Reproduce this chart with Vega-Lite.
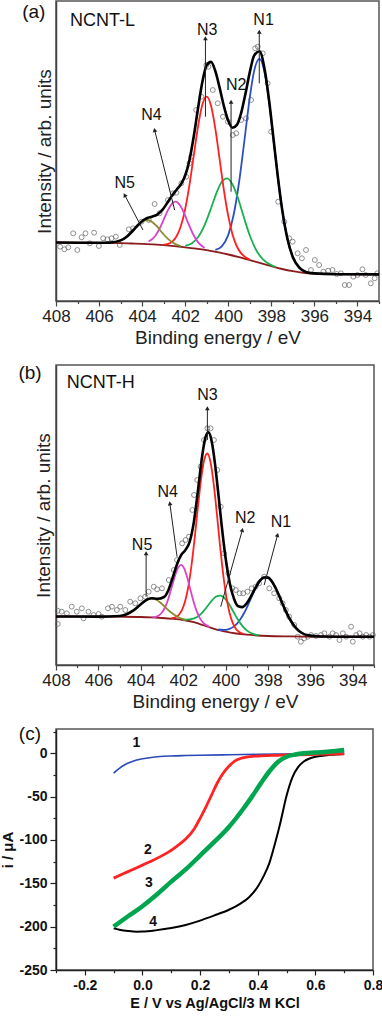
{
"$schema": "https://vega.github.io/schema/vega-lite/v6.json",
"padding": {"left": 0, "top": 0, "right": 2, "bottom": 2},
"background": "white",
"bounds": "flush",
"spacing": 64,
"resolve": {"scale": {"color": "independent"}},
"config": {
 "font": "Liberation Sans",
 "view": {"stroke": "#555", "strokeWidth": 1.5},
 "axis": {"grid": false, "domainColor": "#444", "domainWidth": 1.5, "tickColor": "#444", "tickWidth": 1.2, "labelColor": "#222", "titleColor": "#222", "labelFont": "Liberation Sans", "titleFont": "Liberation Sans", "labelFlush": false, "labelOverlap": false}
},
"datasets": {
 "aPts": [
  {"e":407.81,"v":54.3},{"e":407.61,"v":51.7},{"e":407.43,"v":53.7},{"e":407.2,"v":67.7},{"e":407.01,"v":51.0},{"e":406.81,"v":63.7},{"e":406.63,"v":67.7},{"e":406.43,"v":57.7},{"e":406.23,"v":68.3},{"e":406.01,"v":55.0},{"e":405.81,"v":62.7},{"e":405.61,"v":61.7},{"e":405.42,"v":62.7},{"e":405.22,"v":64.3},{"e":405.04,"v":56.0},{"e":404.62,"v":71.7},{"e":404.42,"v":72.7},{"e":404.03,"v":79.3},{"e":403.69,"v":81.0},{"e":403.42,"v":97.0},{"e":403.19,"v":87.7},{"e":402.8,"v":101.0},{"e":402.57,"v":107.7},{"e":402.41,"v":108.3},{"e":402.18,"v":117.7},{"e":401.95,"v":124.3},{"e":401.8,"v":137.7},{"e":401.72,"v":144.3},{"e":401.49,"v":191.0},{"e":401.25,"v":204.3},{"e":401.02,"v":236.0},{"e":400.92,"v":234.3},{"e":400.72,"v":211.0},{"e":400.49,"v":197.7},{"e":400.25,"v":184.3},{"e":400.02,"v":179.3},{"e":399.79,"v":166.0},{"e":399.63,"v":167.7},{"e":399.4,"v":181.0},{"e":399.17,"v":182.7},{"e":398.94,"v":201.0},{"e":398.75,"v":252.7},{"e":398.63,"v":254.3},{"e":398.4,"v":247.7},{"e":398.17,"v":217.7},{"e":398.01,"v":169.3},{"e":397.68,"v":99.3},{"e":397.4,"v":79.3},{"e":397.17,"v":62.7},{"e":397.01,"v":59.3},{"e":396.78,"v":47.7},{"e":396.58,"v":42.7},{"e":396.39,"v":51.0},{"e":396.16,"v":31.0},{"e":395.98,"v":41.0},{"e":395.78,"v":36.0},{"e":395.58,"v":29.3},{"e":395.36,"v":30.3},{"e":395.16,"v":31.0},{"e":394.96,"v":27.0},{"e":394.77,"v":27.7},{"e":394.59,"v":16.0},{"e":394.39,"v":16.0},{"e":394.19,"v":24.3},{"e":394.0,"v":26.0},{"e":393.77,"v":31.7},{"e":393.62,"v":26.0},{"e":393.38,"v":17.7},{"e":393.2,"v":22.7},{"e":393.08,"v":27.7}
 ],
 "aLines": [
  {"s":"bg","e":408,"v":58.5},{"s":"bg","e":407,"v":58.3},{"s":"bg","e":406,"v":58.2},{"s":"bg","e":405,"v":57.8},{"s":"bg","e":404.5,"v":57.5},{"s":"bg","e":404,"v":57.2},{"s":"bg","e":403.5,"v":56.6},{"s":"bg","e":403,"v":55.8},{"s":"bg","e":402.5,"v":54.8},{"s":"bg","e":402,"v":53.7},{"s":"bg","e":401.5,"v":52.4},{"s":"bg","e":401,"v":50.8},{"s":"bg","e":400.5,"v":48.8},{"s":"bg","e":400,"v":46.5},{"s":"bg","e":399.5,"v":43.8},{"s":"bg","e":399,"v":40.8},{"s":"bg","e":398.5,"v":37.8},{"s":"bg","e":398,"v":34.8},{"s":"bg","e":397.5,"v":32.0},{"s":"bg","e":397,"v":29.8},{"s":"bg","e":396.5,"v":28.2},{"s":"bg","e":396,"v":27.4},{"s":"bg","e":395.5,"v":27.0},{"s":"bg","e":395,"v":26.8},{"s":"bg","e":394,"v":26.7},{"s":"bg","e":393,"v":26.6},
  {"s":"N1","e":400.6,"v":51.1},{"s":"N1","e":400.3,"v":54.7},{"s":"N1","e":400,"v":66.1},{"s":"N1","e":399.75,"v":86.2},{"s":"N1","e":399.5,"v":118.5},{"s":"N1","e":399.25,"v":160.5},{"s":"N1","e":399,"v":203.6},{"s":"N1","e":398.8,"v":229.9},{"s":"N1","e":398.55,"v":242.1},{"s":"N1","e":398.3,"v":226.9},{"s":"N1","e":398.1,"v":198.2},{"s":"N1","e":397.9,"v":161.6},{"s":"N1","e":397.7,"v":124.3},{"s":"N1","e":397.5,"v":91.8},{"s":"N1","e":397.25,"v":62.0},{"s":"N1","e":397,"v":43.8},{"s":"N1","e":396.7,"v":33.3},{"s":"N1","e":396.4,"v":29.1},{"s":"N1","e":396,"v":27.6},
  {"s":"N2","e":402,"v":55.3},{"s":"N2","e":401.7,"v":57.6},{"s":"N2","e":401.4,"v":63.9},{"s":"N2","e":401.1,"v":75.9},{"s":"N2","e":400.8,"v":92.8},{"s":"N2","e":400.55,"v":107.9},{"s":"N2","e":400.3,"v":119.2},{"s":"N2","e":400.05,"v":122.7},{"s":"N2","e":399.8,"v":116.5},{"s":"N2","e":399.55,"v":103.0},{"s":"N2","e":399.3,"v":85.4},{"s":"N2","e":399,"v":65.5},{"s":"N2","e":398.7,"v":50.8},{"s":"N2","e":398.4,"v":41.9},{"s":"N2","e":398.1,"v":37.0},{"s":"N2","e":397.8,"v":34.0},
  {"s":"N3","e":403,"v":56.4},{"s":"N3","e":402.8,"v":57.1},{"s":"N3","e":402.6,"v":59.4},{"s":"N3","e":402.4,"v":64.7},{"s":"N3","e":402.2,"v":74.9},{"s":"N3","e":402,"v":92.0},{"s":"N3","e":401.8,"v":116.3},{"s":"N3","e":401.6,"v":145.8},{"s":"N3","e":401.4,"v":175.0},{"s":"N3","e":401.2,"v":196.7},{"s":"N3","e":401,"v":204.3},{"s":"N3","e":400.8,"v":195.2},{"s":"N3","e":400.6,"v":172.1},{"s":"N3","e":400.4,"v":141.5},{"s":"N3","e":400.2,"v":110.5},{"s":"N3","e":400,"v":84.8},{"s":"N3","e":399.8,"v":66.2},{"s":"N3","e":399.6,"v":54.5},{"s":"N3","e":399.4,"v":47.6},{"s":"N3","e":399.2,"v":43.7},{"s":"N3","e":399,"v":41.4},
  {"s":"N4","e":403.7,"v":59.5},{"s":"N4","e":403.4,"v":64.8},{"s":"N4","e":403.2,"v":72.0},{"s":"N4","e":403,"v":81.3},{"s":"N4","e":402.8,"v":90.8},{"s":"N4","e":402.6,"v":97.6},{"s":"N4","e":402.44,"v":99.3},{"s":"N4","e":402.25,"v":96.0},{"s":"N4","e":402.05,"v":87.8},{"s":"N4","e":401.85,"v":77.3},{"s":"N4","e":401.65,"v":67.5},{"s":"N4","e":401.4,"v":58.6},{"s":"N4","e":401.1,"v":53.0},
  {"s":"N5","e":405.3,"v":58.7},{"s":"N5","e":405,"v":60.6},{"s":"N5","e":404.7,"v":64.6},{"s":"N5","e":404.4,"v":71.0},{"s":"N5","e":404.15,"v":76.6},{"s":"N5","e":403.95,"v":79.9},{"s":"N5","e":403.76,"v":81.0},{"s":"N5","e":403.55,"v":79.3},{"s":"N5","e":403.3,"v":74.3},{"s":"N5","e":403.05,"v":67.8},{"s":"N5","e":402.8,"v":62.1},{"s":"N5","e":402.5,"v":57.4},{"s":"N5","e":402.2,"v":54.9},
  {"s":"fit","e":408,"v":58.5},{"s":"fit","e":407,"v":58.3},{"s":"fit","e":406,"v":58.2},{"s":"fit","e":405.5,"v":58.4},{"s":"fit","e":405,"v":60.6},{"s":"fit","e":404.7,"v":64.6},{"s":"fit","e":404.4,"v":71.0},{"s":"fit","e":404.15,"v":76.8},{"s":"fit","e":403.95,"v":80.7},{"s":"fit","e":403.76,"v":83.0},{"s":"fit","e":403.55,"v":84.3},{"s":"fit","e":403.3,"v":86.4},{"s":"fit","e":403.05,"v":91.3},{"s":"fit","e":402.8,"v":99.2},{"s":"fit","e":402.6,"v":105.8},{"s":"fit","e":402.4,"v":111.3},{"s":"fit","e":402.2,"v":116.7},{"s":"fit","e":402,"v":125.5},{"s":"fit","e":401.8,"v":141.1},{"s":"fit","e":401.6,"v":165.0},{"s":"fit","e":401.4,"v":193.3},{"s":"fit","e":401.2,"v":219.4},{"s":"fit","e":401,"v":236.0},{"s":"fit","e":400.8,"v":239.1},{"s":"fit","e":400.6,"v":229.8},{"s":"fit","e":400.4,"v":213.1},{"s":"fit","e":400.2,"v":194.6},{"s":"fit","e":400,"v":180.2},{"s":"fit","e":399.8,"v":173.3},{"s":"fit","e":399.6,"v":176.1},{"s":"fit","e":399.4,"v":188.2},{"s":"fit","e":399.2,"v":207.5},{"s":"fit","e":399,"v":228.9},{"s":"fit","e":398.8,"v":245.3},{"s":"fit","e":398.55,"v":249.8},{"s":"fit","e":398.3,"v":230.2},{"s":"fit","e":398.1,"v":199.8},{"s":"fit","e":397.9,"v":162.4},{"s":"fit","e":397.7,"v":124.6},{"s":"fit","e":397.5,"v":91.9},{"s":"fit","e":397.25,"v":62.0},{"s":"fit","e":397,"v":43.8},{"s":"fit","e":396.7,"v":33.3},{"s":"fit","e":396.4,"v":29.1},{"s":"fit","e":396,"v":27.6},{"s":"fit","e":395,"v":26.8},{"s":"fit","e":394,"v":26.7},{"s":"fit","e":393,"v":26.6}
 ],
 "aArr": [
  {"lab":"N1","e":398.56,"v":269.3,"e2":398.56,"v2":217.7},
  {"lab":"N2","e":399.87,"v":199.3,"e2":399.87,"v2":109.3},
  {"lab":"N3","e":401.06,"v":262.7,"e2":401.06,"v2":184.3},
  {"lab":"N4","e":403.42,"v":171,"e2":402.49,"v2":91},
  {"lab":"N5","e":404.81,"v":106,"e2":403.96,"v2":71}
 ],
 "aLab": [
  {"lab":"N1","e":398.36,"v":281},{"lab":"N2","e":399.63,"v":216},{"lab":"N3","e":400.98,"v":271},{"lab":"N4","e":403.57,"v":186},{"lab":"N5","e":404.81,"v":117.7}
 ],
 "bPts": [
  {"e":407.92,"v":54.3},{"e":407.92,"v":41.0},{"e":407.73,"v":53.3},{"e":407.49,"v":51.7},{"e":407.26,"v":58.3},{"e":407.02,"v":53.3},{"e":406.78,"v":56.7},{"e":406.7,"v":46.7},{"e":406.47,"v":53.3},{"e":406.23,"v":50.0},{"e":405.99,"v":51.0},{"e":405.84,"v":48.3},{"e":405.55,"v":56.7},{"e":405.36,"v":58.3},{"e":405.13,"v":55.0},{"e":404.97,"v":58.3},{"e":404.73,"v":55.0},{"e":404.5,"v":63.3},{"e":404.26,"v":61.7},{"e":404.02,"v":66.7},{"e":403.79,"v":68.3},{"e":403.63,"v":73.3},{"e":403.39,"v":78.3},{"e":403.23,"v":75.7},{"e":403.0,"v":76.7},{"e":402.68,"v":85.0},{"e":402.44,"v":95.0},{"e":402.29,"v":105.0},{"e":402.05,"v":121.7},{"e":401.89,"v":125.0},{"e":401.73,"v":128.3},{"e":401.57,"v":155.0},{"e":401.49,"v":170.0},{"e":401.34,"v":185.0},{"e":401.18,"v":198.3},{"e":401.02,"v":225.0},{"e":400.86,"v":236.7},{"e":400.71,"v":236.7},{"e":400.55,"v":225.0},{"e":400.39,"v":195.0},{"e":400.23,"v":158.3},{"e":400.07,"v":111.7},{"e":399.87,"v":91.7},{"e":399.68,"v":76.7},{"e":399.52,"v":75.0},{"e":399.34,"v":71.7},{"e":399.17,"v":71.7},{"e":398.97,"v":73.3},{"e":398.77,"v":76.7},{"e":398.58,"v":78.3},{"e":398.42,"v":81.7},{"e":398.18,"v":88.3},{"e":397.94,"v":76.7},{"e":397.71,"v":71.7},{"e":397.47,"v":66.7},{"e":397.31,"v":61.7},{"e":397.16,"v":55.0},{"e":397.0,"v":48.3},{"e":396.76,"v":40.0},{"e":396.6,"v":28.3},{"e":396.45,"v":23.3},{"e":396.29,"v":26.7},{"e":396.13,"v":28.3},{"e":395.97,"v":30.0},{"e":395.74,"v":29.0},{"e":395.5,"v":30.0},{"e":395.34,"v":31.7},{"e":395.1,"v":28.3},{"e":394.95,"v":31.7},{"e":394.79,"v":30.0},{"e":394.63,"v":25.0},{"e":394.47,"v":31.7},{"e":394.32,"v":28.3},{"e":394.08,"v":38.3},{"e":394.0,"v":23.3},{"e":393.84,"v":30.0},{"e":393.68,"v":31.7},{"e":393.53,"v":28.3},{"e":393.37,"v":30.0},{"e":393.21,"v":28.3},{"e":393.05,"v":30.0}
 ],
 "bLines": [
  {"s":"bg","e":408,"v":48.5},{"s":"bg","e":406,"v":48.4},{"s":"bg","e":405,"v":48.3},{"s":"bg","e":404,"v":48.0},{"s":"bg","e":403.5,"v":47.6},{"s":"bg","e":403,"v":47.0},{"s":"bg","e":402.5,"v":46.2},{"s":"bg","e":402,"v":45.0},{"s":"bg","e":401.5,"v":42.8},{"s":"bg","e":401.25,"v":41.2},{"s":"bg","e":401,"v":39.5},{"s":"bg","e":400.75,"v":37.6},{"s":"bg","e":400.5,"v":35.9},{"s":"bg","e":400.25,"v":34.5},{"s":"bg","e":400,"v":33.3},{"s":"bg","e":399.5,"v":31.5},{"s":"bg","e":399,"v":30.3},{"s":"bg","e":398.5,"v":29.5},{"s":"bg","e":398,"v":29.0},{"s":"bg","e":397,"v":28.6},{"s":"bg","e":396,"v":28.4},{"s":"bg","e":393,"v":28.3},
  {"s":"N1","e":400.35,"v":35.5},{"s":"N1","e":400.1,"v":35.0},{"s":"N1","e":399.85,"v":35.9},{"s":"N1","e":399.6,"v":38.6},{"s":"N1","e":399.35,"v":44.3},{"s":"N1","e":399.1,"v":53.0},{"s":"N1","e":398.85,"v":64.3},{"s":"N1","e":398.6,"v":76.0},{"s":"N1","e":398.35,"v":84.8},{"s":"N1","e":398.1,"v":88.0},{"s":"N1","e":397.85,"v":84.4},{"s":"N1","e":397.6,"v":75.2},{"s":"N1","e":397.35,"v":63.0},{"s":"N1","e":397.1,"v":51.1},{"s":"N1","e":396.85,"v":41.7},{"s":"N1","e":396.6,"v":35.2},{"s":"N1","e":396.35,"v":31.5},{"s":"N1","e":396.1,"v":29.6},{"s":"N1","e":395.85,"v":28.8},
  {"s":"N2","e":402.03,"v":45.5},{"s":"N2","e":401.83,"v":45.4},{"s":"N2","e":401.63,"v":45.8},{"s":"N2","e":401.43,"v":47.1},{"s":"N2","e":401.23,"v":49.8},{"s":"N2","e":401.03,"v":54.1},{"s":"N2","e":400.83,"v":59.5},{"s":"N2","e":400.63,"v":64.8},{"s":"N2","e":400.43,"v":68.7},{"s":"N2","e":400.23,"v":69.4},{"s":"N2","e":400.03,"v":66.5},{"s":"N2","e":399.83,"v":60.7},{"s":"N2","e":399.63,"v":53.2},{"s":"N2","e":399.43,"v":45.7},{"s":"N2","e":399.23,"v":39.6},{"s":"N2","e":399.03,"v":35.1},{"s":"N2","e":398.83,"v":32.3},{"s":"N2","e":398.63,"v":30.7},{"s":"N2","e":398.43,"v":29.8},
  {"s":"N3","e":402.56,"v":46.8},{"s":"N3","e":402.36,"v":47.8},{"s":"N3","e":402.21,"v":50.0},{"s":"N3","e":402.06,"v":54.8},{"s":"N3","e":401.91,"v":63.7},{"s":"N3","e":401.76,"v":78.2},{"s":"N3","e":401.61,"v":99.5},{"s":"N3","e":401.46,"v":126.7},{"s":"N3","e":401.31,"v":157.0},{"s":"N3","e":401.16,"v":185.1},{"s":"N3","e":401.01,"v":205.0},{"s":"N3","e":400.86,"v":211.5},{"s":"N3","e":400.71,"v":202.7},{"s":"N3","e":400.56,"v":180.8},{"s":"N3","e":400.41,"v":150.8},{"s":"N3","e":400.26,"v":118.8},{"s":"N3","e":400.11,"v":90.0},{"s":"N3","e":399.96,"v":67.4},{"s":"N3","e":399.81,"v":51.7},{"s":"N3","e":399.66,"v":41.8},{"s":"N3","e":399.51,"v":36.0},{"s":"N3","e":399.36,"v":33.1},{"s":"N3","e":399.16,"v":31.2},
  {"s":"N4","e":403.45,"v":47.8},{"s":"N4","e":403.3,"v":48.2},{"s":"N4","e":403.15,"v":49.6},{"s":"N4","e":403.0,"v":52.5},{"s":"N4","e":402.85,"v":58.0},{"s":"N4","e":402.7,"v":66.3},{"s":"N4","e":402.55,"v":77.3},{"s":"N4","e":402.4,"v":88.4},{"s":"N4","e":402.25,"v":97.0},{"s":"N4","e":402.1,"v":100.2},{"s":"N4","e":401.95,"v":96.4},{"s":"N4","e":401.8,"v":86.7},{"s":"N4","e":401.65,"v":74.4},{"s":"N4","e":401.5,"v":62.6},{"s":"N4","e":401.35,"v":53.1},{"s":"N4","e":401.2,"v":46.4},{"s":"N4","e":401.05,"v":42.2},{"s":"N4","e":400.9,"v":39.7},{"s":"N4","e":400.75,"v":37.9},
  {"s":"N5","e":405.07,"v":48.8},{"s":"N5","e":404.87,"v":49.4},{"s":"N5","e":404.67,"v":50.8},{"s":"N5","e":404.47,"v":52.8},{"s":"N5","e":404.27,"v":55.9},{"s":"N5","e":404.07,"v":59.5},{"s":"N5","e":403.87,"v":63.1},{"s":"N5","e":403.67,"v":65.7},{"s":"N5","e":403.47,"v":66.5},{"s":"N5","e":403.27,"v":65.3},{"s":"N5","e":403.07,"v":62.3},{"s":"N5","e":402.87,"v":58.3},{"s":"N5","e":402.67,"v":54.3},{"s":"N5","e":402.47,"v":50.9},{"s":"N5","e":402.27,"v":48.2},{"s":"N5","e":402.07,"v":46.3},{"s":"N5","e":401.87,"v":44.7},
  {"s":"fit","e":408,"v":48.5},{"s":"fit","e":406,"v":48.4},{"s":"fit","e":405,"v":49.0},{"s":"fit","e":404.7,"v":50.5},{"s":"fit","e":404.4,"v":53.8},{"s":"fit","e":404.1,"v":58.9},{"s":"fit","e":403.8,"v":64.2},{"s":"fit","e":403.5,"v":66.8},{"s":"fit","e":403.2,"v":66.3},{"s":"fit","e":402.9,"v":68.0},{"s":"fit","e":402.7,"v":74.8},{"s":"fit","e":402.5,"v":87.0},{"s":"fit","e":402.3,"v":100.3},{"s":"fit","e":402.1,"v":109.9},{"s":"fit","e":401.9,"v":114.9},{"s":"fit","e":401.7,"v":122.8},{"s":"fit","e":401.5,"v":142.6},{"s":"fit","e":401.3,"v":175.2},{"s":"fit","e":401.1,"v":209.8},{"s":"fit","e":400.95,"v":227.6},{"s":"fit","e":400.8,"v":232.6},{"s":"fit","e":400.65,"v":222.9},{"s":"fit","e":400.5,"v":201.2},{"s":"fit","e":400.35,"v":172.6},{"s":"fit","e":400.2,"v":142.4},{"s":"fit","e":400,"v":107.0},{"s":"fit","e":399.8,"v":81.6},{"s":"fit","e":399.6,"v":66.0},{"s":"fit","e":399.4,"v":58.7},{"s":"fit","e":399.2,"v":57.9},{"s":"fit","e":399,"v":61.8},{"s":"fit","e":398.8,"v":68.8},{"s":"fit","e":398.6,"v":76.9},{"s":"fit","e":398.4,"v":83.9},{"s":"fit","e":398.2,"v":87.5},{"s":"fit","e":398,"v":87.4},{"s":"fit","e":397.8,"v":83.0},{"s":"fit","e":397.6,"v":75.2},{"s":"fit","e":397.4,"v":65.5},{"s":"fit","e":397.2,"v":55.6},{"s":"fit","e":397,"v":47.0},{"s":"fit","e":396.7,"v":37.4},{"s":"fit","e":396.4,"v":32.0},{"s":"fit","e":396.1,"v":29.6},{"s":"fit","e":395.5,"v":28.5},{"s":"fit","e":394.5,"v":28.3},{"s":"fit","e":393,"v":28.3}
 ],
 "bArr": [
  {"lab":"N1","e":397.55,"v":130,"e2":398.18,"v2":80},
  {"lab":"N2","e":399.21,"v":135,"e2":400.23,"v2":58.3},
  {"lab":"N3","e":400.86,"v":256.7,"e2":400.86,"v2":225},
  {"lab":"N4","e":402.63,"v":161.7,"e2":402.29,"v2":108.3},
  {"lab":"N5","e":403.75,"v":111.7,"e2":403.75,"v2":68.3}
 ],
 "bLab": [
  {"lab":"N1","e":397.39,"v":143.3},{"lab":"N2","e":399.08,"v":146.7},{"lab":"N3","e":400.86,"v":270},{"lab":"N4","e":402.73,"v":173.3},{"lab":"N5","e":403.94,"v":120}
 ],
 "cLines": [
  {"c":"1","E":-0.1,"I":-23},{"c":"1","E":-0.09,"I":-20},{"c":"1","E":-0.08,"I":-17.3},{"c":"1","E":-0.06,"I":-13},{"c":"1","E":-0.04,"I":-10},{"c":"1","E":-0.02,"I":-7.8},{"c":"1","E":0,"I":-6.3},{"c":"1","E":0.03,"I":-4.8},{"c":"1","E":0.06,"I":-3.8},{"c":"1","E":0.1,"I":-3.1},{"c":"1","E":0.15,"I":-2.6},{"c":"1","E":0.2,"I":-2.2},{"c":"1","E":0.3,"I":-1.7},{"c":"1","E":0.4,"I":-1.3},{"c":"1","E":0.5,"I":-0.8},{"c":"1","E":0.6,"I":-0.3},{"c":"1","E":0.7,"I":0.3},
  {"c":"2","E":-0.1,"I":-144},{"c":"2","E":-0.08,"I":-141},{"c":"2","E":-0.05,"I":-136.5},{"c":"2","E":-0.02,"I":-132},{"c":"2","E":0,"I":-129},{"c":"2","E":0.03,"I":-124.5},{"c":"2","E":0.06,"I":-119.5},{"c":"2","E":0.09,"I":-114},{"c":"2","E":0.12,"I":-107},{"c":"2","E":0.15,"I":-99},{"c":"2","E":0.18,"I":-87},{"c":"2","E":0.2,"I":-75},{"c":"2","E":0.22,"I":-62},{"c":"2","E":0.24,"I":-48},{"c":"2","E":0.26,"I":-34},{"c":"2","E":0.28,"I":-23},{"c":"2","E":0.3,"I":-15},{"c":"2","E":0.32,"I":-9},{"c":"2","E":0.34,"I":-6},{"c":"2","E":0.36,"I":-4.5},{"c":"2","E":0.4,"I":-3.2},{"c":"2","E":0.45,"I":-2.4},{"c":"2","E":0.5,"I":-2},{"c":"2","E":0.6,"I":-1.3},{"c":"2","E":0.7,"I":-0.6},
  {"c":"3","E":-0.1,"I":-200},{"c":"3","E":-0.05,"I":-188},{"c":"3","E":0,"I":-176.5},{"c":"3","E":0.05,"I":-163},{"c":"3","E":0.1,"I":-148},{"c":"3","E":0.15,"I":-134},{"c":"3","E":0.2,"I":-118},{"c":"3","E":0.25,"I":-102},{"c":"3","E":0.3,"I":-85},{"c":"3","E":0.35,"I":-64},{"c":"3","E":0.38,"I":-50},{"c":"3","E":0.41,"I":-35},{"c":"3","E":0.44,"I":-21},{"c":"3","E":0.47,"I":-10},{"c":"3","E":0.5,"I":-4},{"c":"3","E":0.53,"I":-1.5},{"c":"3","E":0.56,"I":0},{"c":"3","E":0.6,"I":0.8},{"c":"3","E":0.65,"I":2},{"c":"3","E":0.7,"I":3.8},
  {"c":"4","E":-0.1,"I":-202},{"c":"4","E":-0.08,"I":-203.5},{"c":"4","E":-0.05,"I":-205},{"c":"4","E":-0.02,"I":-205.8},{"c":"4","E":0,"I":-205.7},{"c":"4","E":0.05,"I":-204},{"c":"4","E":0.1,"I":-201.5},{"c":"4","E":0.15,"I":-198},{"c":"4","E":0.2,"I":-193},{"c":"4","E":0.25,"I":-187},{"c":"4","E":0.3,"I":-180.5},{"c":"4","E":0.34,"I":-173.5},{"c":"4","E":0.37,"I":-166},{"c":"4","E":0.4,"I":-154},{"c":"4","E":0.42,"I":-142},{"c":"4","E":0.44,"I":-127},{"c":"4","E":0.46,"I":-104},{"c":"4","E":0.48,"I":-78},{"c":"4","E":0.5,"I":-49},{"c":"4","E":0.52,"I":-28},{"c":"4","E":0.54,"I":-16},{"c":"4","E":0.56,"I":-9.5},{"c":"4","E":0.58,"I":-6},{"c":"4","E":0.61,"I":-3.5},{"c":"4","E":0.65,"I":-1.8},{"c":"4","E":0.7,"I":-0.8}
 ],
 "cLab": [
  {"E":-0.021,"I":11.5,"t":"1"},{"E":0.019,"I":-111.6,"t":"2"},{"E":0.022,"I":-150,"t":"3"},{"E":0.037,"I":-194.3,"t":"4"}
 ]
},
"vconcat": [
 {
  "width": 323, "height": 300,
  "encoding": {
   "x": {"field": "e", "type": "quantitative", "scale": {"domain": [393, 408], "reverse": true, "nice": false, "zero": false},
    "axis": {"title": "Binding energy / eV", "values": [393,394,395,396,397,398,399,400,401,402,403,404,405,406,407,408], "labelExpr": "datum.value % 2 == 0 ? datum.label : ''", "tickSize": {"condition": {"test": "datum.value % 2 == 0", "value": 5}, "value": 2.5}, "labelFontSize": 17, "titleFontSize": 19, "titleFontWeight": "normal", "labelPadding": 2, "titlePadding": 4}},
   "y": {"field": "v", "type": "quantitative", "scale": {"domain": [0, 300], "nice": false, "zero": false},
    "axis": {"title": "Intensity / arb. units", "labels": false, "ticks": false, "titleFontSize": 19, "titleFontWeight": "normal", "titlePadding": 2, "minExtent": 0, "maxExtent": 0}}
  },
  "layer": [
   {"data": {"name": "aPts"}, "mark": {"type": "point", "shape": "circle", "filled": false, "stroke": "#606060", "strokeWidth": 1, "size": 24}},
   {"data": {"name": "aLines"}, "transform": [{"filter": "datum.s != 'fit'"}], "mark": {"type": "line", "strokeWidth": 1.8, "interpolate": "monotone"},
    "encoding": {"color": {"field": "s", "type": "nominal", "scale": {"domain": ["bg","N1","N2","N3","N4","N5"], "range": ["#8b1c1c","#2d4fc4","#19b04f","#ff2020","#d944c8","#8c8a32"]}, "legend": null}}},
   {"data": {"name": "aLines"}, "transform": [{"filter": "datum.s == 'fit'"}], "mark": {"type": "line", "strokeWidth": 2.6, "color": "#000", "interpolate": "monotone"}},
   {"data": {"name": "aArr"}, "mark": {"type": "rule", "color": "#222", "strokeWidth": 1}, "encoding": {"x2": {"field": "e2"}, "y2": {"field": "v2"}}},
   {"data": {"name": "aArr"}, "transform": [{"filter": "datum.lab == 'N1' || datum.lab == 'N2' || datum.lab == 'N3'"}], "mark": {"type": "point", "shape": "triangle-up", "filled": true, "color": "#222", "opacity": 1, "size": 22}},
   {"data": {"name": "aArr"}, "transform": [{"filter": "datum.lab == 'N4'"}], "mark": {"type": "point", "shape": "triangle-up", "filled": true, "color": "#222", "opacity": 1, "size": 22, "angle": -14}},
   {"data": {"name": "aArr"}, "transform": [{"filter": "datum.lab == 'N5'"}], "mark": {"type": "point", "shape": "triangle-up", "filled": true, "color": "#222", "opacity": 1, "size": 22, "angle": -28}},
   {"data": {"name": "aLab"}, "mark": {"type": "text", "fontSize": 16, "color": "#111", "align": "center", "baseline": "middle"}, "encoding": {"text": {"field": "lab"}}},
   {"data": {"values": [{"e": 407.35, "v": 289, "t": "NCNT-L"}]}, "mark": {"type": "text", "fontSize": 18, "color": "#111", "align": "left", "baseline": "top"}, "encoding": {"text": {"field": "t"}}},
   {"data": {"values": [{"e": 409.57, "v": 298, "t": "(a)"}]}, "mark": {"type": "text", "fontSize": 19, "color": "#111", "align": "left", "baseline": "top"}, "encoding": {"text": {"field": "t"}}}
  ]
 },
 {
  "width": 318, "height": 300,
  "encoding": {
   "x": {"field": "e", "type": "quantitative", "scale": {"domain": [393, 408], "reverse": true, "nice": false, "zero": false},
    "axis": {"title": "Binding energy / eV", "values": [393,394,395,396,397,398,399,400,401,402,403,404,405,406,407,408], "labelExpr": "datum.value % 2 == 0 ? datum.label : ''", "tickSize": {"condition": {"test": "datum.value % 2 == 0", "value": 5}, "value": 2.5}, "labelFontSize": 17, "titleFontSize": 19, "titleFontWeight": "normal", "labelPadding": 2, "titlePadding": 4}},
   "y": {"field": "v", "type": "quantitative", "scale": {"domain": [0, 300], "nice": false, "zero": false},
    "axis": {"title": "Intensity / arb. units", "labels": false, "ticks": false, "titleFontSize": 19, "titleFontWeight": "normal", "titlePadding": 3, "minExtent": 0, "maxExtent": 0}}
  },
  "layer": [
   {"data": {"name": "bPts"}, "mark": {"type": "point", "shape": "circle", "filled": false, "stroke": "#606060", "strokeWidth": 1, "size": 24}},
   {"data": {"name": "bLines"}, "transform": [{"filter": "datum.s != 'fit'"}], "mark": {"type": "line", "strokeWidth": 1.8, "interpolate": "monotone"},
    "encoding": {"color": {"field": "s", "type": "nominal", "scale": {"domain": ["bg","N1","N2","N3","N4","N5"], "range": ["#8b1c1c","#2d4fc4","#19b04f","#ff2020","#d944c8","#8c8a32"]}, "legend": null}}},
   {"data": {"name": "bLines"}, "transform": [{"filter": "datum.s == 'fit'"}], "mark": {"type": "line", "strokeWidth": 2.6, "color": "#000", "interpolate": "monotone"}},
   {"data": {"name": "bArr"}, "mark": {"type": "rule", "color": "#222", "strokeWidth": 1}, "encoding": {"x2": {"field": "e2"}, "y2": {"field": "v2"}}},
   {"data": {"name": "bArr"}, "transform": [{"filter": "datum.lab == 'N3' || datum.lab == 'N5'"}], "mark": {"type": "point", "shape": "triangle-up", "filled": true, "color": "#222", "opacity": 1, "size": 22}},
   {"data": {"name": "bArr"}, "transform": [{"filter": "datum.lab == 'N4'"}], "mark": {"type": "point", "shape": "triangle-up", "filled": true, "color": "#222", "opacity": 1, "size": 22, "angle": -8}},
   {"data": {"name": "bArr"}, "transform": [{"filter": "datum.lab == 'N1' || datum.lab == 'N2'"}], "mark": {"type": "point", "shape": "triangle-up", "filled": true, "color": "#222", "opacity": 1, "size": 22, "angle": 15}},
   {"data": {"name": "bLab"}, "mark": {"type": "text", "fontSize": 16, "color": "#111", "align": "center", "baseline": "middle"}, "encoding": {"text": {"field": "lab"}}},
   {"data": {"values": [{"e": 407.49, "v": 291, "t": "NCNT-H"}]}, "mark": {"type": "text", "fontSize": 18, "color": "#111", "align": "left", "baseline": "top"}, "encoding": {"text": {"field": "t"}}},
   {"data": {"values": [{"e": 409.77, "v": 301.5, "t": "(b)"}]}, "mark": {"type": "text", "fontSize": 19, "color": "#111", "align": "left", "baseline": "top"}, "encoding": {"text": {"field": "t"}}}
  ]
 },
 {
  "width": 317, "height": 241,
  "encoding": {
   "x": {"field": "E", "type": "quantitative", "scale": {"domain": [-0.3, 0.8], "nice": false, "zero": false},
    "axis": {"title": "E / V vs Ag/AgCl/3 M KCl", "values": [-0.3,-0.2,-0.1,0,0.1,0.2,0.3,0.4,0.5,0.6,0.7,0.8], "labelExpr": "abs(round(datum.value*10)) % 2 == 0 ? (datum.value < -0.001 ? '-' : '') + format(abs(datum.value), '.1f') : ''", "tickSize": {"condition": {"test": "abs(round(datum.value*10)) % 2 == 0", "value": 5}, "value": 2.7}, "labelFontSize": 14, "labelFontWeight": "bold", "titleFontSize": 14.5, "titleFontWeight": "bold", "labelPadding": 3, "titlePadding": 4, "domainColor": "#222", "tickColor": "#222", "labelColor": "#111", "titleColor": "#111"}},
   "y": {"field": "I", "type": "quantitative", "scale": {"domain": [-250, 28], "nice": false, "zero": false},
    "axis": {"title": "i / μA", "values": [-250,-225,-200,-175,-150,-125,-100,-75,-50,-25,0,25], "labelExpr": "datum.value % 50 == 0 ? (datum.value < 0 ? '-' : '') + abs(datum.value) : ''", "tickSize": {"condition": {"test": "datum.value % 50 == 0", "value": 6}, "value": 3}, "labelFontSize": 14, "labelFontWeight": "bold", "titleFontSize": 15, "titleFontWeight": "bold", "labelPadding": 3, "titlePadding": 3, "domainColor": "#222", "tickColor": "#222", "labelColor": "#111", "titleColor": "#111"}}
  },
  "layer": [
   {"data": {"name": "cLines"}, "transform": [{"filter": "datum.c == '4'"}], "mark": {"type": "line", "interpolate": "monotone", "color": "#000000", "strokeWidth": 2}},
   {"data": {"name": "cLines"}, "transform": [{"filter": "datum.c == '1'"}], "mark": {"type": "line", "interpolate": "monotone", "color": "#2a48b8", "strokeWidth": 1.6}},
   {"data": {"name": "cLines"}, "transform": [{"filter": "datum.c == '2'"}], "mark": {"type": "line", "interpolate": "monotone", "color": "#ff2222", "strokeWidth": 2.8}},
   {"data": {"name": "cLines"}, "transform": [{"filter": "datum.c == '3'"}], "mark": {"type": "line", "interpolate": "monotone", "color": "#00a550", "strokeWidth": 4.5}},
   {"data": {"name": "cLab"}, "mark": {"type": "text", "fontSize": 14, "fontWeight": "bold", "color": "#111", "align": "center", "baseline": "middle"}, "encoding": {"text": {"field": "t"}}},
   {"data": {"values": [{"E": -0.429, "I": 33, "t": "(c)"}]}, "mark": {"type": "text", "fontSize": 19, "color": "#111", "align": "left", "baseline": "top"}, "encoding": {"text": {"field": "t"}}}
  ]
 }
]
}
